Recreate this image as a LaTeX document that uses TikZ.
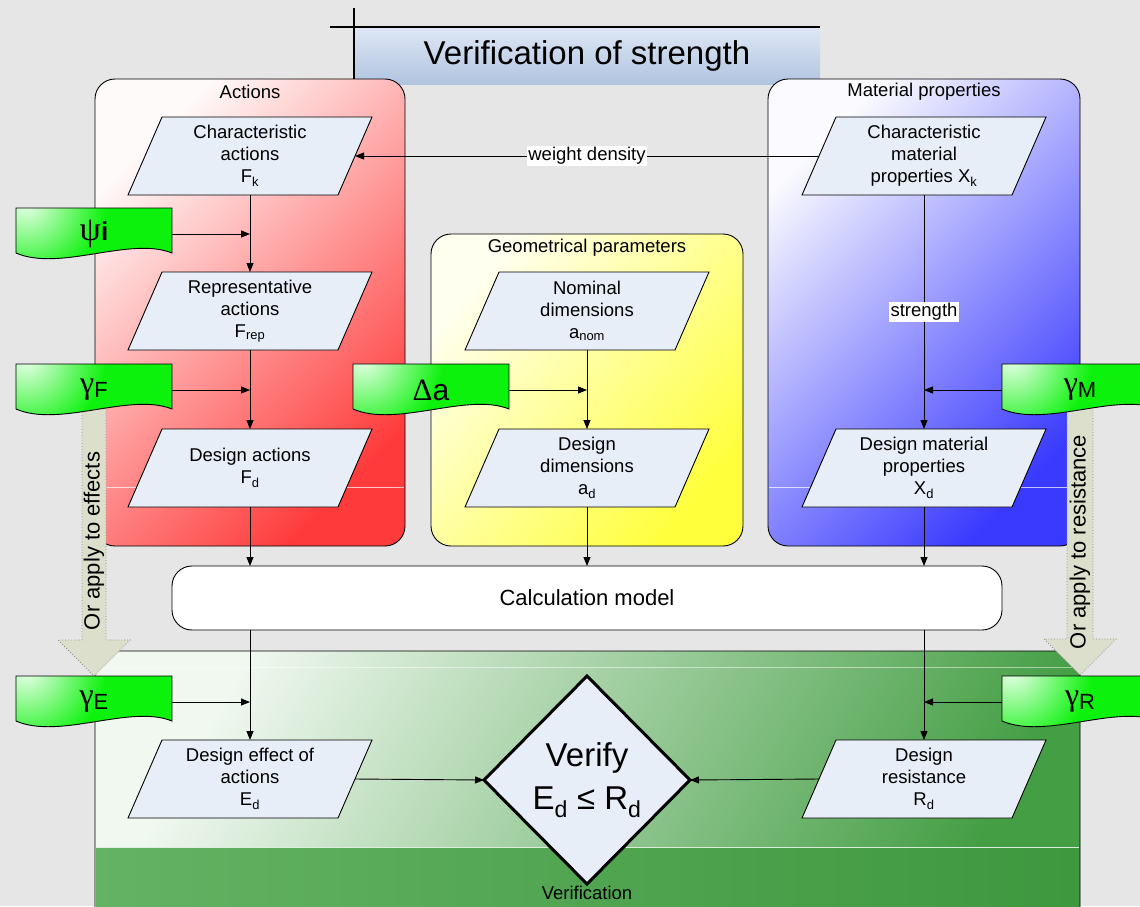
\documentclass[tikz,border=0pt]{standalone}
\usepackage{fontspec}
\setmainfont{Liberation Sans}
\newfontfamily\greekserif{Liberation Serif}
\usetikzlibrary{arrows.meta,shapes.geometric,calc}

\definecolor{bggray}{RGB}{230,230,230}
\definecolor{parafill}{RGB}{232,238,248}
\definecolor{blockfill}{RGB}{220,223,203}
\definecolor{titletop}{RGB}{222,231,245}
\definecolor{titlebot}{RGB}{176,196,224}
\definecolor{actL}{RGB}{255,250,250}
\definecolor{actR}{RGB}{255,58,58}
\definecolor{geoL}{RGB}{255,255,240}
\definecolor{geoR}{RGB}{255,255,60}
\definecolor{matL}{RGB}{250,250,255}
\definecolor{matR}{RGB}{58,58,255}
\definecolor{verL}{RGB}{240,248,240}
\definecolor{verR}{RGB}{68,158,68}
\definecolor{verbandL}{RGB}{100,178,100}
\definecolor{verbandR}{RGB}{62,152,62}
\definecolor{glablight}{RGB}{235,255,235}
\definecolor{glabgreen}{RGB}{12,242,12}

\newcommand\paranode[4]{%
  \draw[paraframe] ($(#2,#3)+(-88,-39)$) -- ($(#2,#3)+(122,-39)$) -- ($(#2,#3)+(88,39)$) -- ($(#2,#3)+(-122,39)$) -- cycle;
  \node[paratext] (#1) at (#2,#3) {#4};}

\newcommand\greenlab[4]{%
  \path[draw=black, line width=0.9pt,
    path picture={\fill[glabgreen] (path picture bounding box.south west) rectangle (path picture bounding box.north east);
      \shade[inner color=glablight, outer color=glabgreen] ($(path picture bounding box.north west)+(10,-6)$) circle (80);}]
    ($(#2,#3)+(-78,-26)$) -- ($(#2,#3)+(78,-26)$) -- ($(#2,#3)+(78,19)$)
    .. controls ($(#2,#3)+(36,2)$) and ($(#2,#3)+(-34,38)$) .. ($(#2,#3)+(-78,19)$) -- cycle;
  \node[glabtext] (#1) at (#2,#3) {#4};}

\newcommand\gam[1]{{\greekserif\fontsize{32}{32}\selectfont γ}\raisebox{-4pt}{\fontsize{22}{22}\selectfont #1}}

\begin{document}
\begin{tikzpicture}[x=1pt,y=-1pt,
  every node/.style={inner sep=0pt, outer sep=0pt},
  txt/.style={font=\fontsize{18.5}{22}\selectfont, align=center},
  paraframe/.style={draw=black, line width=0.9pt, fill=parafill},
  paratext/.style={txt, minimum width=210, minimum height=78},
  arr/.style={draw=black, line width=0.9pt, -{Triangle[length=9pt,width=7pt]}},
  lbl/.style={txt, fill=white, inner sep=1.5pt},
  glabtext/.style={minimum width=156, minimum height=52},
  blockarrow/.style={fill=blockfill, draw=black!45, dotted, line width=0.8pt},
  bigbox/.style={draw=black, line width=0.9pt, rounded corners=20},
]
\useasboundingbox (0,0) rectangle (1140,906);
\clip (0,0) rectangle (1140,906);
\fill[bggray] (0,0) rectangle (1140,906);

% title
\shade[top color=titletop, bottom color=titlebot] (355,28) rectangle (820,84);
\draw[line width=1.2pt] (330,27) -- (820,27);
\draw[line width=1.2pt] (354,8) -- (354,84);
\node[font=\fontsize{33}{36}\selectfont] (title) at (587,56) {Verification of strength};

% big boxes
\shadedraw[bigbox, left color=actL, right color=actR, shading angle=45] (95,79) rectangle (405,546);
\shadedraw[bigbox, left color=geoL, right color=geoR, shading angle=50] (431,234) rectangle (743,546);
\shadedraw[bigbox, left color=matL, right color=matR, shading angle=45] (768,79) rectangle (1080,546);
\draw[white, opacity=0.7, line width=0.6pt] (96,487) -- (404,487);
\draw[white, opacity=0.7, line width=0.6pt] (769,487) -- (1079,487);

% verification box
\shade[rounded corners=20, left color=verL, right color=verR, shading angle=60] (95,651) rectangle (1080,940);
\shade[left color=verbandL, right color=verbandR] (96,847) rectangle (1079,940);
\draw[white, opacity=0.8, line width=0.7pt] (96,847) -- (1079,847);
\draw[white, opacity=0.5, line width=0.6pt] (96,667) -- (1079,667);
\draw[bigbox] (95,651) rectangle (1080,940);

% box labels
\node[txt] (actlbl) at (250,92) {Actions};
\node[txt] (matlbl) at (924,92) {Material properties};
\node[txt] (geolbl) at (587,248) {Geometrical parameters};
\node[txt] (verlbl) at (587,893) {Verification};

% calculation model
\node[draw=black, line width=0.9pt, fill=white, rounded corners=20, minimum width=830, minimum height=64,
      font=\fontsize{22}{24}\selectfont] (calc) at (587,598) {Calculation model};

% block arrows
\draw[blockarrow] (82,405) -- (106,405) -- (106,640) -- (130,640) -- (94,676) -- (58,640) -- (82,640) -- cycle;
\node[font=\fontsize{22}{22}\selectfont, rotate=90] (effects) at (94,541) {Or apply to effects};
\draw[blockarrow] (1067,405) -- (1093,405) -- (1093,639) -- (1116,639) -- (1080,675) -- (1044,639) -- (1067,639) -- cycle;
\node[font=\fontsize{22}{22}\selectfont, rotate=90] (resist) at (1080,542) {Or apply to resistance};

% green labels
\greenlab{psi}{94}{234}{{\greekserif\fontsize{34}{34}\selectfont ψ}{\fontsize{26}{26}\selectfont\bfseries i}}
\greenlab{gf}{94}{390}{\gam{F}}
\greenlab{da}{431}{390}{{\greekserif\fontsize{31}{31}\selectfont Δ}{\fontsize{30}{30}\selectfont a}}
\greenlab{gm}{1080}{390}{\gam{M}}
\greenlab{ge}{94}{702}{\gam{E}}
\greenlab{gr}{1080}{702}{\gam{R}}

% parallelograms
\paranode{fk}{250}{156}{Characteristic\\actions\\F\textsubscript{k}}
\paranode{frep}{250}{311}{Representative\\actions\\F\textsubscript{rep}}
\paranode{fd}{250}{468}{Design actions\\F\textsubscript{d}}
\paranode{anom}{587}{311}{Nominal\\dimensions\\a\textsubscript{nom}}
\paranode{ad}{587}{468}{Design\\dimensions\\a\textsubscript{d}}
\paranode{xk}{924}{156}{Characteristic\\material\\properties X\textsubscript{k}}
\paranode{xd}{924}{468}{Design material\\properties\\X\textsubscript{d}}
\paranode{ed}{250}{779}{Design effect of\\actions\\E\textsubscript{d}}
\paranode{rd}{924}{779}{Design\\resistance\\R\textsubscript{d}}

% diamond
\node[diamond, draw=black, line width=3pt, fill=parafill, minimum width=206, minimum height=208] (verify) at (587,780) {};
\node[font=\fontsize{33}{43}\selectfont, align=center] (verifytext) at (verify.center) {Verify\\E\textsubscript{d} ≤ R\textsubscript{d}};

% junction coordinates
\coordinate (jpsi) at (250,234);
\coordinate (jgf) at (250,390);
\coordinate (jda) at (587,390);
\coordinate (jgm) at (924,390);
\coordinate (jge) at (250,702);
\coordinate (jgr) at (924,702);

% connectors
\draw[arr] (fk.south) -- (frep.north);
\draw[arr] (frep.south) -- (fd.north);
\draw[arr] (anom.south) -- (ad.north);
\draw[arr] (xk.south) -- node[lbl] (strength) {strength} (xd.north);
\draw[arr] (xk.west) -- node[lbl] (weight) {weight density} (fk.east);
\draw[arr] (psi.east) -- (jpsi);
\draw[arr] (gf.east) -- (jgf);
\draw[arr] (da.east) -- (jda);
\draw[arr] (gm.west) -- (jgm);
\draw[arr] (fd.south) -- (fd.south |- calc.north);
\draw[arr] (ad.south) -- (ad.south |- calc.north);
\draw[arr] (xd.south) -- (xd.south |- calc.north);
\draw[arr] (calc.south -| ed.north) -- (ed.north);
\draw[arr] (calc.south -| rd.north) -- (rd.north);
\draw[arr] (ge.east) -- (jge);
\draw[arr] (gr.west) -- (jgr);
\draw[arr] (ed.east) -- (verify.west);
\draw[arr] (rd.west) -- (verify.east);
\end{tikzpicture}
\end{document}
